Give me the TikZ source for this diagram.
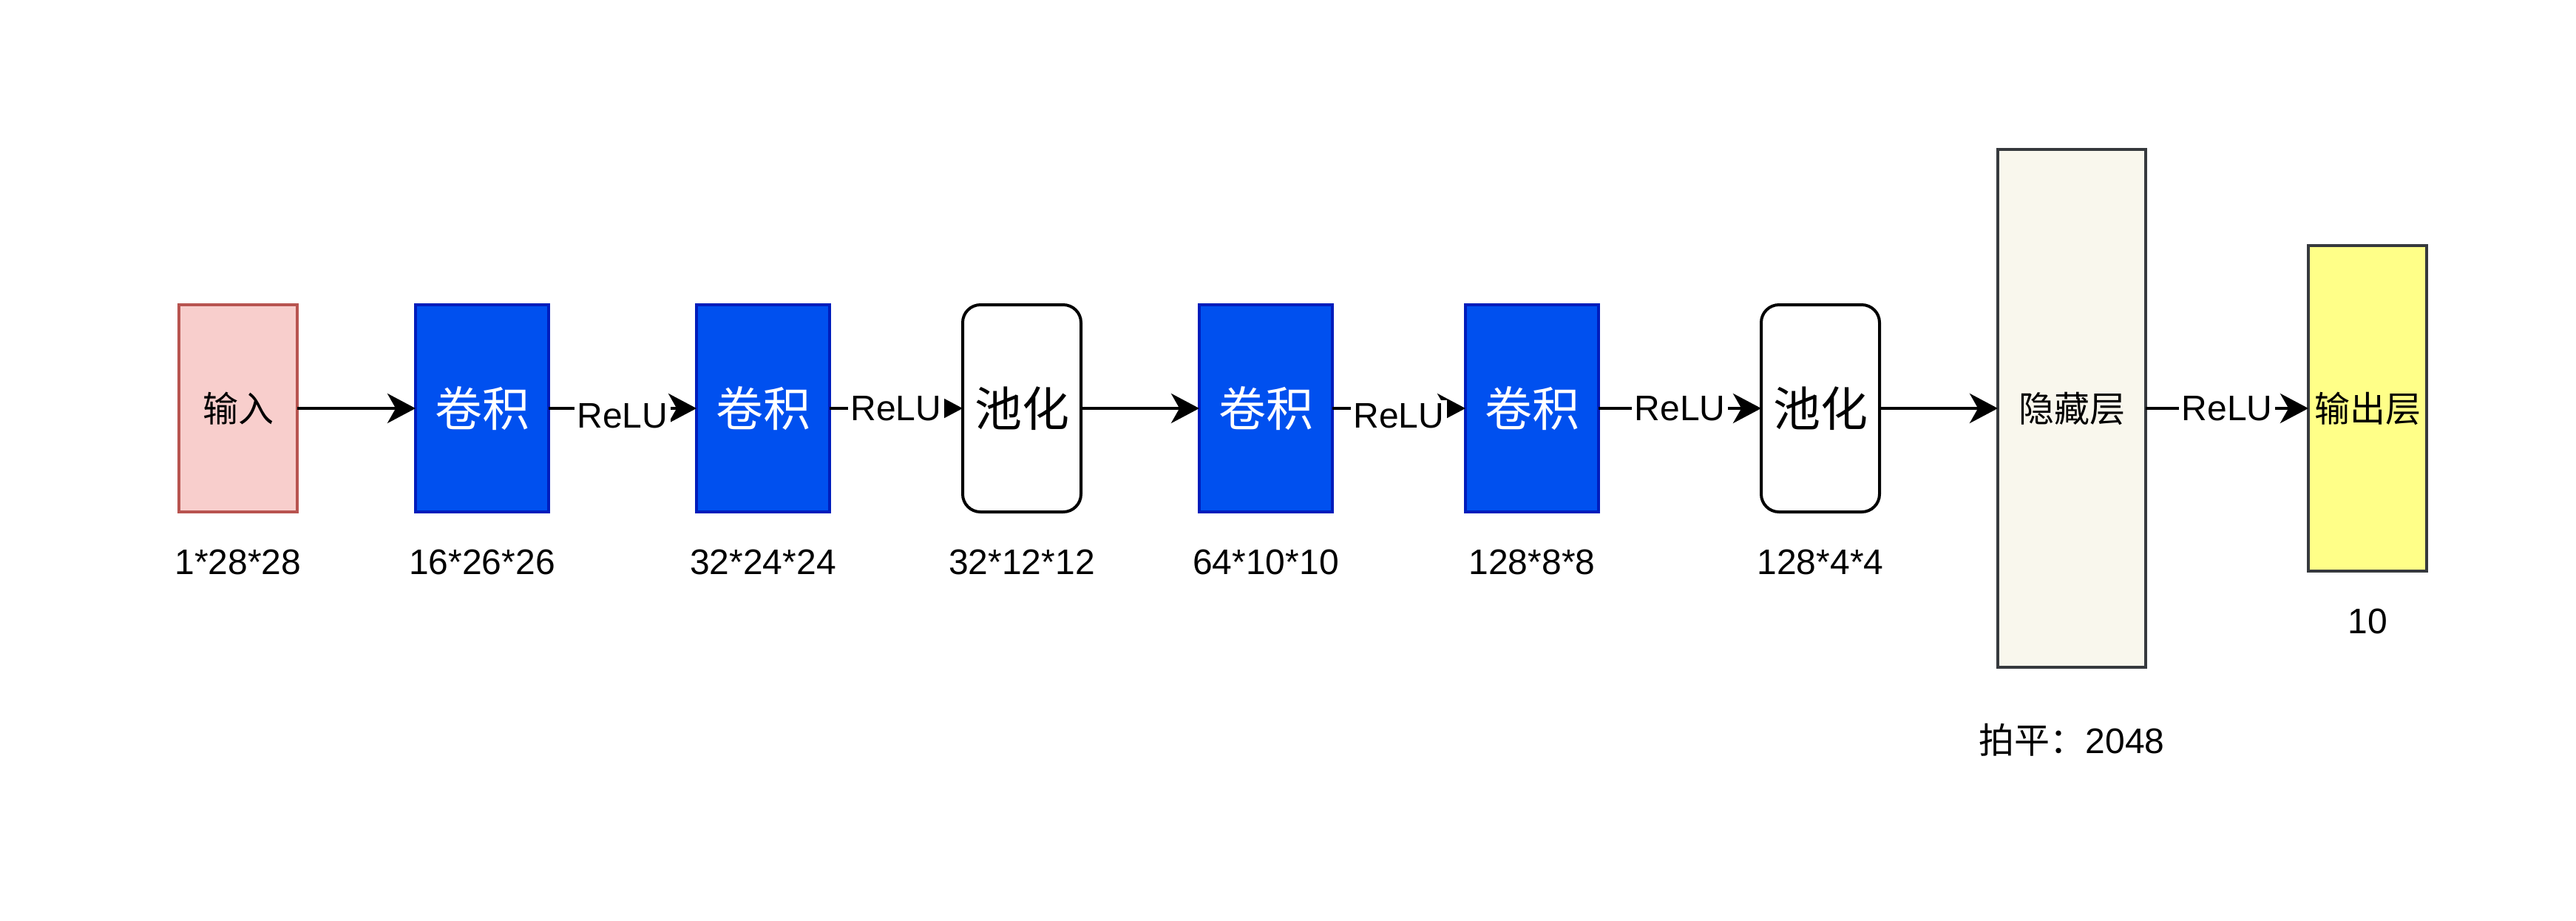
\documentclass[tikz,border=0pt]{standalone}
\usepackage{fontspec}
\setmainfont{Liberation Sans}
\newfontfamily\cjk{Noto Sans CJK SC}
\usepackage{tikz}
\usetikzlibrary{arrows.meta}
\usetikzlibrary{positioning}
\definecolor{in-fill}{HTML}{F8CECC}
\definecolor{in-line}{HTML}{B85450}
\definecolor{conv-fill}{HTML}{0050EF}
\definecolor{conv-line}{HTML}{001DBC}
\definecolor{hid-fill}{HTML}{F9F7ED}
\definecolor{out-fill}{HTML}{FFFF88}
\definecolor{dark-line}{HTML}{36393D}

\begin{document}
\begin{tikzpicture}[
    node distance=40pt,
    font=\fontsize{12}{14}\selectfont,
    >={Stealth[length=9.5pt,width=10pt,inset=2.8pt]}
  ]
  \tikzset{
    layer/.style={line width=1pt, outer sep=0pt, inner sep=0pt, minimum width=40pt, minimum height=70pt, align=center, font=\fontsize{12}{14}\selectfont\cjk},
    inputbox/.style={layer, draw=in-line, fill=in-fill},
    convbox/.style={layer, draw=conv-line, fill=conv-fill, text=white, minimum width=45pt, font=\fontsize{16}{19}\selectfont\cjk},
    poolbox/.style={layer, draw=black, fill=white, rounded corners=6pt, font=\fontsize{16}{19}\selectfont\cjk},
    hiddenbox/.style={layer, draw=dark-line, fill=hid-fill, minimum width=50pt, minimum height=175pt},
    outputbox/.style={layer, draw=dark-line, fill=out-fill, minimum height=110pt},
    arrow/.style={->, line width=1.1pt},
    relu/.style={midway, fill=white, inner sep=1pt},
    dimlabel/.style={anchor=base}
  }
  \useasboundingbox (0,0) rectangle (871pt,-311pt);

  \node (input) [inputbox] at (80.5pt,-138pt) {输入};
  \node (conv1) [convbox, right=of input] {卷积};
  \node (conv2) [convbox, right=50pt of conv1] {卷积};
  \node (pool1) [poolbox, right=45pt of conv2] {池化};
  \node (conv3) [convbox, right=of pool1] {卷积};
  \node (conv4) [convbox, right=45pt of conv3] {卷积};
  \node (pool2) [poolbox, right=55pt of conv4] {池化};
  \node (hidden) [hiddenbox, right=of pool2] {隐藏层};
  \node (output) [outputbox, right=55pt of hidden] {输出层};

  \draw[arrow] (input) -- (conv1);
  \draw[arrow] (conv1) -- node[relu, yshift=-2.5pt] {ReLU} (conv2);
  \draw[arrow] (conv2) -- node[relu] {ReLU} (pool1);
  \draw[arrow] (pool1) -- (conv3);
  \draw[arrow] (conv3) -- node[relu, yshift=-2.5pt] {ReLU} (conv4);
  \draw[arrow] (conv4) -- node[relu] {ReLU} (pool2);
  \draw[arrow] (pool2) -- (hidden);
  \draw[arrow] (hidden) -- node[relu] {ReLU} (output);

  % sizes under the layers
  \node[dimlabel] (dim-input) at ([yshift=-21pt]input.south) {1*28*28};
  \node[dimlabel] (dim-conv1) at ([yshift=-21pt]conv1.south) {16*26*26};
  \node[dimlabel] (dim-conv2) at ([yshift=-21pt]conv2.south) {32*24*24};
  \node[dimlabel] (dim-pool1) at ([yshift=-21pt]pool1.south) {32*12*12};
  \node[dimlabel] (dim-conv3) at ([yshift=-21pt]conv3.south) {64*10*10};
  \node[dimlabel] (dim-conv4) at ([yshift=-21pt]conv4.south) {128*8*8};
  \node[dimlabel] (dim-pool2) at ([yshift=-21pt]pool2.south) {128*4*4};
  \node[dimlabel] (dim-hidden) at ([yshift=-29pt]hidden.south) {{\cjk 拍平：}2048};
  \node[dimlabel] (dim-output) at ([yshift=-21pt]output.south) {10};
\end{tikzpicture}
\end{document}
